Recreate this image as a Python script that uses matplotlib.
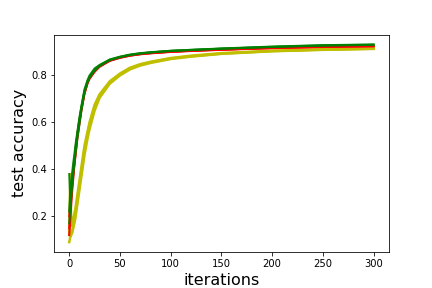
import matplotlib
matplotlib.use('Agg')
import matplotlib.pyplot as plt

iters = [0, 1, 2, 3, 4, 5, 6, 8, 10, 12, 15, 18, 20, 25, 30, 40, 50, 60, 70, 80,
         100, 120, 150, 200, 250, 300]

# yellow runs (slower)
yellow_1 = [0.09, 0.11, 0.12, 0.13, 0.15, 0.17, 0.19, 0.25, 0.31, 0.37, 0.46, 0.53, 0.57,
            0.65, 0.705, 0.765, 0.80, 0.826, 0.842, 0.853, 0.87, 0.88, 0.892, 0.903, 0.909, 0.913]
yellow_2 = [0.12, 0.38, 0.16, 0.17, 0.19, 0.21, 0.23, 0.29, 0.35, 0.41, 0.50, 0.56, 0.60,
            0.675, 0.72, 0.775, 0.808, 0.833, 0.848, 0.858, 0.874, 0.884, 0.895, 0.905, 0.911, 0.915]
yellow_3 = [0.14, 0.13, 0.13, 0.14, 0.16, 0.18, 0.21, 0.27, 0.33, 0.39, 0.48, 0.55, 0.59,
            0.665, 0.715, 0.77, 0.805, 0.83, 0.845, 0.856, 0.872, 0.882, 0.893, 0.904, 0.91, 0.914]

# red runs
red_1 = [0.12, 0.18, 0.25, 0.31, 0.36, 0.41, 0.45, 0.53, 0.59, 0.65, 0.72, 0.765, 0.785,
         0.815, 0.837, 0.862, 0.875, 0.884, 0.89, 0.894, 0.90, 0.904, 0.909, 0.916, 0.921, 0.924]
red_2 = [0.20, 0.26, 0.31, 0.36, 0.40, 0.44, 0.48, 0.55, 0.61, 0.66, 0.73, 0.77, 0.79,
         0.82, 0.84, 0.864, 0.876, 0.885, 0.891, 0.895, 0.901, 0.905, 0.91, 0.917, 0.922, 0.925]
red_3 = [0.15, 0.22, 0.28, 0.34, 0.38, 0.42, 0.46, 0.54, 0.60, 0.655, 0.725, 0.768, 0.788,
         0.818, 0.838, 0.863, 0.876, 0.885, 0.891, 0.895, 0.901, 0.905, 0.91, 0.917, 0.922, 0.925]

# green runs
green_1 = [0.22, 0.30, 0.35, 0.39, 0.43, 0.46, 0.50, 0.56, 0.62, 0.67, 0.74, 0.78, 0.80,
           0.83, 0.845, 0.868, 0.88, 0.889, 0.895, 0.899, 0.905, 0.909, 0.914, 0.922, 0.928, 0.931]
green_2 = [0.38, 0.28, 0.33, 0.37, 0.40, 0.44, 0.48, 0.55, 0.61, 0.665, 0.735, 0.775, 0.795,
           0.825, 0.843, 0.867, 0.879, 0.888, 0.894, 0.898, 0.905, 0.909, 0.915, 0.923, 0.929, 0.932]
green_3 = [0.17, 0.22, 0.28, 0.33, 0.38, 0.42, 0.46, 0.53, 0.59, 0.65, 0.725, 0.77, 0.79,
           0.82, 0.84, 0.865, 0.878, 0.887, 0.893, 0.898, 0.904, 0.908, 0.914, 0.921, 0.927, 0.930]

fig = plt.figure(figsize=(6, 4), dpi=72)
plt.subplots_adjust(bottom=0.125)

for run in [yellow_1, yellow_2, yellow_3]:
    plt.plot(iters, run, color='y', linewidth=2.5)
for run in [red_1, red_2, red_3]:
    plt.plot(iters, run, color='r', linewidth=2.0)
for run in [green_1, green_2, green_3]:
    plt.plot(iters, run, color='g', linewidth=2.0, alpha=0.9)

plt.xlabel('iterations', fontsize=16)
plt.ylabel('test accuracy', fontsize=16)
plt.savefig('out.png', dpi=72)
